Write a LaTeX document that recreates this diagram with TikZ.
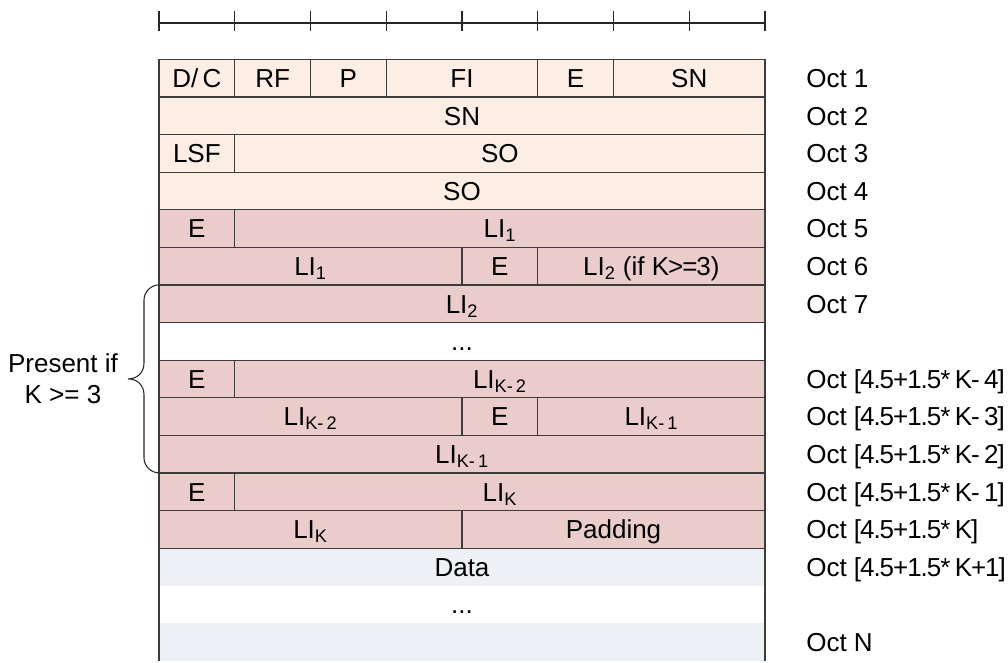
\documentclass[tikz,border=0pt]{standalone}
\usepackage{fontspec}
\setmainfont{Liberation Sans}
\usetikzlibrary{calc}
\definecolor{peach}{RGB}{252,238,228}
\definecolor{pinkc}{RGB}{234,204,203}
\definecolor{datac}{RGB}{237,240,245}
\definecolor{linec}{RGB}{60,60,60}
\newcommand{\bw}{75.75}
\newcommand{\rh}{37.6}
\newcommand{\tx}{159}
\newcommand{\ty}{59.3}
\newcommand{\lsub}[1]{\textsubscript{#1}}
\newcommand{\tightx}[1]{{\addfontfeature{LetterSpace=-4}#1}}
\newcommand{\cellbox}[6]{\node[cellbase,#5,minimum width={(#3-#2)*\bw*0.75pt},minimum height={\rh*0.75pt}] (#1) at ({\tx+(#2+#3)/2*\bw},{\ty+(#4+0.5)*\rh}) {#6};}
\newcommand{\octlab}[3]{\node[octlabel] (#1) at (806,{\ty+(#2+0.5)*\rh}) {#3};}
\tikzset{
  basefont/.style={font=\fontsize{19.5pt}{23.25pt}\selectfont},
  cellbase/.style={basefont,draw=linec,line width=0.9pt,inner sep=0pt,outer sep=0pt,text height=14pt,text depth=0pt},
  hdr/.style={fill=peach},
  lif/.style={fill=pinkc},
  gap/.style={fill=white},
  datarow/.style={fill=datac,draw=none},
  datagap/.style={fill=white,draw=none},
  octlabel/.style={basefont,anchor=west,inner sep=0pt,text height=14pt,text depth=0pt},
  rulerline/.style={line width=0.9pt,black!85},
  sideline/.style={draw=linec,line width=0.9pt},
  bracepath/.style={line width=0.8pt,black!85}
}
\begin{document}
\begin{tikzpicture}[x=0.75pt,y=-0.75pt]
\useasboundingbox (0,0) rectangle (1008,662);
% ruler
\draw[rulerline] (\tx,23) -- ({\tx+8*\bw},23);
\foreach \i in {0,...,8} \draw[rulerline] ({\tx+\i*\bw},11) -- ({\tx+\i*\bw},31);
% data region (drawn first)
\cellbox{d1}{0}{8}{13}{datarow}{Data}
\cellbox{d2}{0}{8}{14}{datagap}{...}
\cellbox{d3}{0}{8}{15}{datarow}{}
\draw[sideline] (d1.north west) -- (d3.south west);
\draw[sideline] (d1.north east) -- (d3.south east);
% header rows
\cellbox{dc}{0}{1}{0}{hdr}{D/\,C}
\cellbox{rf}{1}{2}{0}{hdr}{RF}
\cellbox{p}{2}{3}{0}{hdr}{P}
\cellbox{fi}{3}{5}{0}{hdr}{FI}
\cellbox{e0}{5}{6}{0}{hdr}{E}
\cellbox{sn1}{6}{8}{0}{hdr}{SN}
\cellbox{sn2}{0}{8}{1}{hdr}{SN}
\cellbox{lsf}{0}{1}{2}{hdr}{LSF}
\cellbox{so1}{1}{8}{2}{hdr}{SO}
\cellbox{so2}{0}{8}{3}{hdr}{SO}
% length indicator rows
\cellbox{e1}{0}{1}{4}{lif}{E}
\cellbox{lia}{1}{8}{4}{lif}{LI\lsub{1}}
\cellbox{lib}{0}{4}{5}{lif}{LI\lsub{1}}
\cellbox{e2}{4}{5}{5}{lif}{E}
\cellbox{lic}{5}{8}{5}{lif}{LI\lsub{2} (if \tightx{K>=3})}
\cellbox{lid}{0}{8}{6}{lif}{LI\lsub{2}}
\cellbox{g1}{0}{8}{7}{gap}{...}
\cellbox{e3}{0}{1}{8}{lif}{E}
\cellbox{lie}{1}{8}{8}{lif}{LI\lsub{K-\,2}}
\cellbox{lif1}{0}{4}{9}{lif}{LI\lsub{K-\,2}}
\cellbox{e4}{4}{5}{9}{lif}{E}
\cellbox{lig}{5}{8}{9}{lif}{LI\lsub{K-\,1}}
\cellbox{lih}{0}{8}{10}{lif}{LI\lsub{K-\,1}}
\cellbox{e5}{0}{1}{11}{lif}{E}
\cellbox{lii}{1}{8}{11}{lif}{LI\lsub{K}}
\cellbox{lij}{0}{4}{12}{lif}{LI\lsub{K}}
\cellbox{pad}{4}{8}{12}{lif}{Padding}
% octet labels
\octlab{o1}{0}{Oct 1}
\octlab{o2}{1}{Oct 2}
\octlab{o3}{2}{Oct 3}
\octlab{o4}{3}{Oct 4}
\octlab{o5}{4}{Oct 5}
\octlab{o6}{5}{Oct 6}
\octlab{o7}{6}{Oct 7}
\octlab{o8}{8}{Oct \tightx{[4.5+1.5*\,K-\,4]}}
\octlab{o9}{9}{Oct \tightx{[4.5+1.5*\,K-\,3]}}
\octlab{o10}{10}{Oct \tightx{[4.5+1.5*\,K-\,2]}}
\octlab{o11}{11}{Oct \tightx{[4.5+1.5*\,K-\,1]}}
\octlab{o12}{12}{Oct \tightx{[4.5+1.5*\,K]}}
\octlab{o13}{13}{Oct \tightx{[4.5+1.5*\,K+1]}}
\octlab{o14}{15}{Oct N}
% brace
\coordinate (bt) at (lid.north west);
\coordinate (bb) at (lih.south west);
\coordinate (bm) at ($(bt)!0.5!(bb)$);
\draw[bracepath] (bt) .. controls ($(bt)+(-8,0)$) and ($(bt)+(-15,7)$) .. ($(bt)+(-15,15)$)
  -- ($(bm)+(-15,-16)$) .. controls ($(bm)+(-15,-6)$) and ($(bm)+(-22,0)$) .. ($(bm)+(-31,0)$)
  .. controls ($(bm)+(-22,0)$) and ($(bm)+(-15,6)$) .. ($(bm)+(-15,16)$)
  -- ($(bb)+(-15,-15)$) .. controls ($(bb)+(-15,-7)$) and ($(bb)+(-8,0)$) .. (bb);
\node[basefont,align=center,inner sep=0pt] (present) at ($(bm)+(-96,0)$) {Present if\\K >= 3};
\end{tikzpicture}
\end{document}
